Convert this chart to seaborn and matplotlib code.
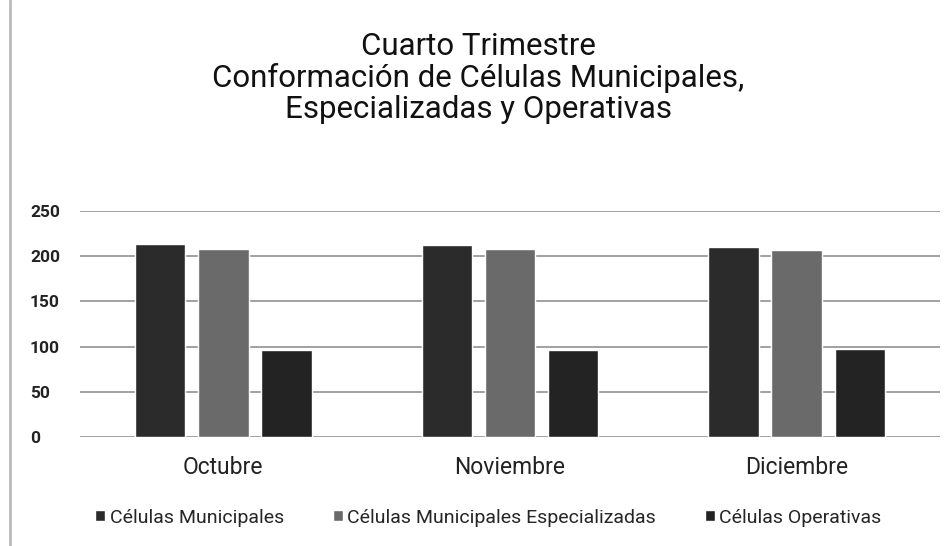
import pandas as pd
import matplotlib
matplotlib.use('Agg')
from matplotlib import pyplot as plt
import seaborn as sns

months = ['Octubre', 'Noviembre', 'Diciembre']
series = ['Células Municipales', 'Células Municipales Especializadas', 'Células Operativas']
municipales = [213, 212, 210]
especializadas = [208, 208, 207]
operativas = [96, 96, 97]
yticks = [0, 50, 100, 150, 200, 250]

df = pd.DataFrame({
    'mes': months * 3,
    'serie': [series[0]] * 3 + [series[1]] * 3 + [series[2]] * 3,
    'valor': municipales + especializadas + operativas,
})

sns.set_style('white')
plt.rcParams['font.family'] = ['Roboto', 'DejaVu Sans']

fig = plt.figure(figsize=(9.51, 5.46), dpi=100)
ax = fig.add_axes([80 / 951, 1 - 437 / 546, 860 / 951, 226 / 546])

palette = ['#2b2b2b', '#6a6a6a', '#232323']
sns.barplot(data=df, x='mes', y='valor', hue='serie', palette=palette,
            width=0.66, gap=0.2, saturation=1, ax=ax, zorder=3)

ax.set_ylim(0, 250)
ax.set_xlim(-0.5, 2.5)
ax.set_yticks(yticks)
ax.set_yticklabels([str(t) for t in yticks], fontsize=12.5, fontweight='bold',
                   color='#222222')
ax.tick_params(axis='y', length=0, pad=36)
for lbl in ax.get_yticklabels():
    lbl.set_horizontalalignment('left')
ax.tick_params(axis='x', length=0, pad=14, labelsize=16.5, labelcolor='#222222')
ax.yaxis.grid(True, color='#9a9a9a', linewidth=1.3, zorder=0)
ax.set_axisbelow(True)
for s in ax.spines.values():
    s.set_visible(False)
ax.set_xlabel('')
ax.set_ylabel('')

ax.legend(loc='upper center', bbox_to_anchor=(0.475, -0.24), ncol=3, frameon=False,
          fontsize=14, handlelength=0.5, handleheight=0.5, handletextpad=0.25,
          columnspacing=2.5)

fig.text(0.503, 1 - 78 / 546,
         'Cuarto Trimestre\nConformación de Células Municipales,\nEspecializadas y Operativas',
         ha='center', va='center', fontsize=22.5, linespacing=1.08, color='#111111')

# page border on the left
fig.add_artist(plt.Line2D([10 / 951, 10 / 951], [0, 1], color='#bbbbbb', linewidth=2))

fig.savefig('out.png', dpi=100)
